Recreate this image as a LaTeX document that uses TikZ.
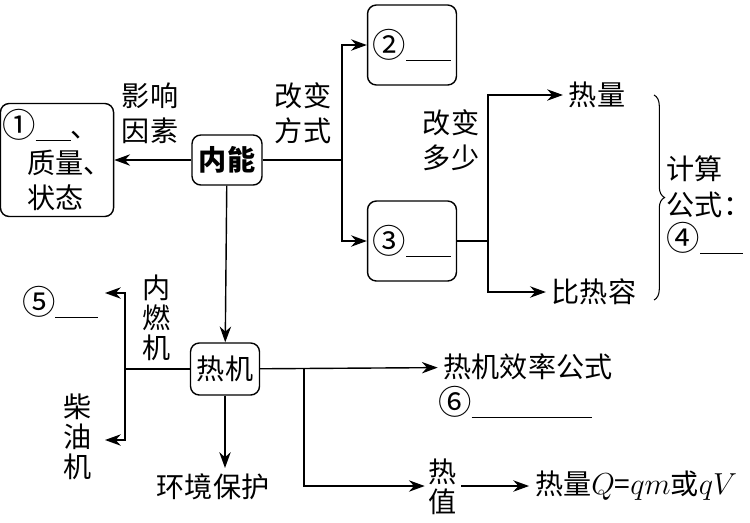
\documentclass[tikz,border=0pt]{standalone}
\usepackage{fontspec}
\setmainfont{Noto Sans CJK SC}
\usepackage{tikz}
\usetikzlibrary{arrows.meta}
\usetikzlibrary{decorations.pathreplacing}
\newcommand{\blank}[1]{\rule[-2pt]{#1}{0.6pt}}
\newcommand{\qnum}[1]{{\fontsize{19}{20}\selectfont #1}}

\begin{document}
\begin{tikzpicture}[x=0.02cm,y=-0.02cm,>={Stealth[length=9pt,width=6.5pt]},
  line width=0.8pt,font=\fontsize{16}{20}\selectfont,
  box node/.style={draw,rounded corners=5pt,align=left,inner sep=3pt},
  txt node/.style={align=center,inner sep=3pt},
  col node/.style={align=center,inner sep=2pt,font=\fontsize{16}{17}\selectfont}]

\useasboundingbox (0,0) rectangle (750,522);

% boxes
\node[box node,minimum width=1.4cm,minimum height=1cm,font=\fontsize{16}{20}\selectfont\bfseries] (neineng) at (227,160) {内能};
\node[box node,minimum width=2.14cm,minimum height=2.26cm,inner sep=1pt] (yinsu) at (57,160) {\qnum{①}\blank{0.7cm}、\\\hspace*{0.9em}质量、\\\hspace*{0.9em}状态};
\node[box node,minimum width=1.7cm,minimum height=1.6cm,align=center] (fangshi2) at (412,45) {\qnum{②}\blank{0.9cm}};
\node[box node,minimum width=1.7cm,minimum height=1.6cm,align=center] (fangshi3) at (412,241) {\qnum{③}\blank{0.9cm}};
\node[box node,minimum width=1.38cm,minimum height=1.04cm,align=center] (reji) at (225,369) {热机};

% labels
\node[txt node] (yingxiang) at (150,113) {影响\\因素};
\node[txt node] (gaibian) at (303,113) {改变\\方式};
\node[txt node] (duoshao) at (451,140) {改变\\多少};
\node[txt node] (reliang) at (597,95) {热量};
\node[txt node] (birerong) at (594,292) {比热容};
\node[txt node,align=left] (jisuan) at (709,205) {计算\\公式：\\\qnum{④}\blank{0.85cm}};
\node[txt node] (wu) at (60,302) {\qnum{⑤}\blank{0.85cm}};
\node[col node] (neiran) at (157,318) {内\\燃\\机};
\node[col node] (chaiyou) at (78,437) {柴\\油\\机};
\node[txt node] (huanjing) at (213,487) {环境保护};
\node[txt node] (xiaolv) at (528,367) {热机效率公式};
\node[txt node,align=left] (liu) at (515,402) {\qnum{⑥}\blank{2.4cm}};
\node[col node] (rezhi) at (443,487) {热\\值};
\node[txt node] (gongshi) at (636,486) {热量$Q$=$qm$或$qV$};

% branch points
\coordinate (fs) at (342,160);
\coordinate (dy) at (488,241);
\coordinate (nr) at (125,369);
\coordinate (rz) at (304,369);
\coordinate (wutip) at (105,293);
\coordinate (cytip) at (105,440);
\coordinate (bracetop) at (654,95);
\coordinate (bracebot) at (654,300);

\path[->]
(neineng) edge (yinsu)
          edge (reji)
(fs)      edge [to path={|- (\tikztotarget)}] (fangshi2)
          edge [to path={|- (\tikztotarget)}] (fangshi3)
(dy)      edge [to path={|- (\tikztotarget)}] (reliang)
          edge [to path={|- (\tikztotarget)}] (birerong)
(nr)      edge [to path={|- (\tikztotarget)}] (wutip)
          edge [to path={|- (\tikztotarget)}] (cytip)
(reji)    edge (xiaolv)
(rz)      edge [to path={|- (\tikztotarget)}] (rezhi.west |- gongshi)
(rezhi.east |- gongshi) edge (gongshi)
(reji.south) edge (reji.south |- huanjing.north);

\draw (neineng) -- (fs);
\draw (fangshi3) -- (dy);
\draw (reji) -- (nr);

\draw[decorate,decoration={brace,amplitude=6pt},line width=0.6pt] (bracetop) -- (bracebot);

\end{tikzpicture}
\end{document}
